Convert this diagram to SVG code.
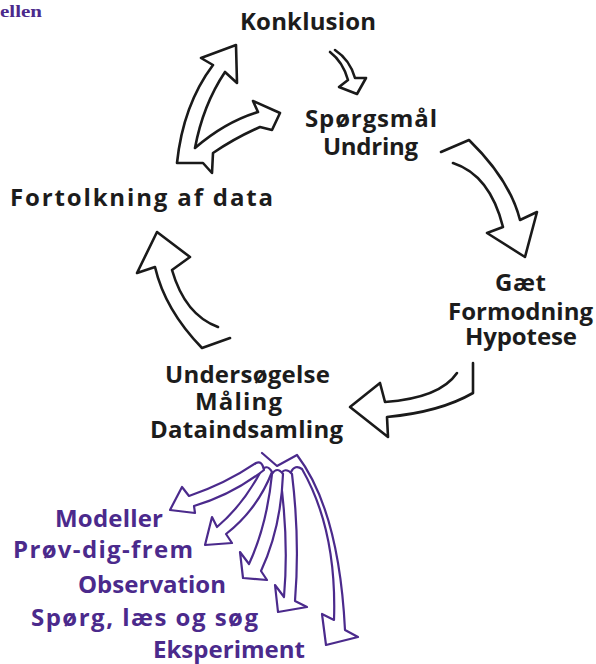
<svg xmlns="http://www.w3.org/2000/svg" width="596" height="664" viewBox="0 0 596 664">
<style>
.t{font-family:"Open Sans","DejaVu Sans",sans-serif;font-weight:700;font-size:24px;fill:#1c1c1c}
.pt{font-family:"Open Sans","DejaVu Sans",sans-serif;font-weight:700;font-size:24px;fill:#4b2a8c}
.k{fill:#fff;stroke:#1a1a1a;stroke-width:2.6;stroke-linejoin:round;stroke-linecap:round}
.p{fill:#fff;stroke:#4b2a8c;stroke-width:2.2;stroke-linejoin:round;stroke-linecap:round}
</style>
<rect width="596" height="664" fill="#fff"/>
<text x="0" y="17" font-family="Liberation Serif,serif" font-weight="700" font-size="17" fill="#4b2a8c" textLength="42" lengthAdjust="spacingAndGlyphs">ellen</text>

<g id="connectors">
<path class="k" d="M177,163 Q183,105 213,65 L201,58 L236,45 L237,83 L225,72 Q203,105 195,148 Q225,122 258,112 L253,101 L280,113 L272,130 L260,127 Q235,138 213,153 L212,173 L203,163 Z"/>
<path class="k" d="M330,52 Q343,62 348,80 L339,87 L357,94 L366,78 L355,78 Q350,60 335,50"/>
<path class="k" d="M441,152 L469,140 Q510,180 520,220 L537,212 L525,257 L487,233 L503,227 Q490,175 453,163"/>
<path class="k" d="M473,363 L473,393 Q440,412 387,417 L388,437 L350,407 L380,383 L385,402 Q440,398 457,373"/>
<path class="k" d="M230,338 L202,348 Q165,310 155,267 L137,273 L157,232 L190,257 L172,270 Q185,315 218,327"/>

<path class="p" d="M291,472 Q295,464 302,469 Q337,530 334,620 L322,614 L326,645 L358,637 L345,630 Q339,510 297,455 L277,466 L262,453"/>
<path class="p" d="M280,475 Q285,466 292,474 Q300,540 295,601 L307,607 L278,612 L275,585 L284,597 Q289,540 280,475 Z"/>
<path class="p" d="M272,474 Q277,466 283,474 Q281,528 261,571 L267,580 L243,578 L240,552 L249,564 Q267,525 272,474 Z"/>
<path class="p" d="M261,471 Q267,463 272,472 Q257,510 226,534 L232,543 L205,545 L212,517 L217,527 Q243,505 261,471 Z"/>
<path class="p" d="M256,463 Q262,460 264,470 Q232,495 194,506 L195,513 L170,510 L182,487 L189,496 Q225,484 256,463 Z"/>
</g>

<g id="konklusion"><text class="t" x="240" y="30" textLength="136">Konklusion</text></g>
<g id="spoergsmaal"><text class="t" x="305" y="127" textLength="132">Spørgsmål</text><text class="t" x="323" y="155" textLength="95">Undring</text></g>
<g id="fortolkning"><text class="t" x="10" y="206" textLength="263">Fortolkning af data</text></g>
<g id="gaet"><text class="t" x="495" y="291" textLength="51">Gæt</text><text class="t" x="448" y="320" textLength="145">Formodning</text><text class="t" x="465" y="345" textLength="112">Hypotese</text></g>
<g id="undersoegelse"><text class="t" x="165" y="383" textLength="165">Undersøgelse</text><text class="t" x="195" y="410" textLength="87">Måling</text><text class="t" x="150" y="438" textLength="193">Dataindsamling</text></g>
<g id="metoder">
<text class="pt" x="55" y="527" textLength="108">Modeller</text>
<text class="pt" x="13" y="558" textLength="180">Prøv-dig-frem</text>
<text class="pt" x="78" y="593" textLength="148">Observation</text>
<text class="pt" x="31" y="626" textLength="227">Spørg, læs og søg</text>
<text class="pt" x="153" y="658" textLength="152">Eksperiment</text>
</g>
</svg>
